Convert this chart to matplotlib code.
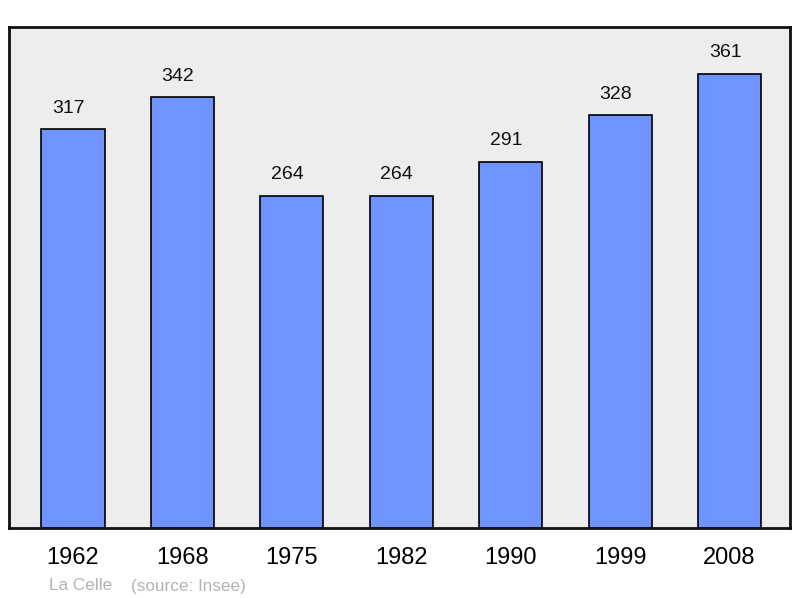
import matplotlib.pyplot as plt
import numpy as np

years = ['1962', '1968', '1975', '1982', '1990', '1999', '2008']
population = [317, 342, 264, 264, 291, 328, 361]
place = 'La Celle'
source = '(source: Insee)'

plt.rcParams['font.family'] = ['Liberation Sans', 'DejaVu Sans']

fig = plt.figure(figsize=(8, 5.98), dpi=100)
ax = fig.add_axes([9 / 800, 1 - 528 / 598, 781 / 800, 501 / 598])
ax.set_facecolor('#ededed')

x = np.arange(len(years))
ax.bar(x, population, width=0.576, color='#7094ff', edgecolor='black', linewidth=1.2, zorder=2)
for xi, v in zip(x, population):
    ax.text(xi - 0.04, v + 16.5, str(v), ha='center', va='center', fontsize=14, color='#111111')

ax.set_xlim(-0.585, len(years) - 1 + 0.553)
ax.set_ylim(0, 398)
ax.set_yticks([])
ax.set_xticks(x)
ax.set_xticklabels(years, fontsize=17)
ax.tick_params(axis='x', length=0, pad=14)
for s in ax.spines.values():
    s.set_linewidth(2)
    s.set_color('#111111')

fig.text(49 / 800, 1 - 586 / 598, place, fontsize=12.3, color='#b3b3b3', va='center')
fig.text(131 / 800, 1 - 586 / 598, source, fontsize=12.3, color='#b3b3b3', va='center')

fig.savefig('out.png', dpi=100)
